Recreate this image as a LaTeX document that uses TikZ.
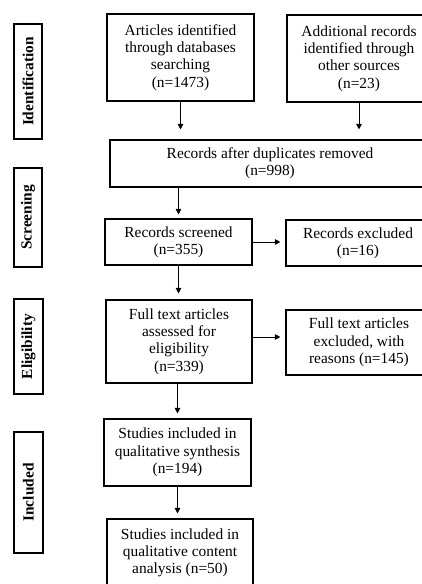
\documentclass[tikz,border=0pt]{standalone}
\usepackage{fontspec}
\setmainfont{Liberation Serif}
\usetikzlibrary{arrows.meta}
\begin{document}
\begin{tikzpicture}[x=1pt,y=-1pt,
  box/.style={draw, line width=1.1pt, align=center, inner sep=0pt, font=\fontsize{15.4}{17.3}\selectfont},
  lab/.style={draw, line width=1.1pt, inner sep=0pt, rotate=90, font=\fontsize{15.4}{17.3}\selectfont\bfseries},
  arr/.style={line width=0.9pt, -{Triangle[length=5.5pt,width=5.5pt]}}]
\useasboundingbox[fill=white] (0,0) rectangle (421,584);
% phase labels
\node[lab, minimum width=115pt, minimum height=28pt] (lid) at (28,81.5) {Identification};
\node[lab, minimum width=99pt, minimum height=28pt] (lsc) at (28,217.5) {Screening};
\node[lab, minimum width=95pt, minimum height=29pt] (lel) at (28.5,346.5) {Eligibility};
\node[lab, minimum width=121pt, minimum height=29pt] (lin) at (28.5,492.5) {Included};
% boxes
\node[box, minimum width=147pt, minimum height=87pt] (A) at (180.5,57.5) {Articles identified\\through databases\\searching\\(n=1473)};
\node[box, minimum width=144pt, minimum height=87pt] (B) at (359,58.5) {Additional records\\identified through\\other sources\\(n=23)};
\node[box, minimum width=320pt, minimum height=47pt] (dup) at (270,163.5) {Records after duplicates removed\\(n=998)};
\node[box, minimum width=147pt, minimum height=46pt] (scr) at (178.5,242) {Records screened\\(n=355)};
\node[box, minimum width=144pt, minimum height=46pt] (exc) at (358,243) {Records excluded\\(n=16)};
\node[box, minimum width=146pt, minimum height=83pt] (ft) at (179,341.5) {Full text articles\\assessed for\\eligibility\\(n=339)};
\node[box, minimum width=146pt, minimum height=65pt] (ftx) at (359,342.5) {Full text articles\\excluded, with\\reasons (n=145)};
\node[box, minimum width=147pt, minimum height=67pt] (syn) at (177.5,452.5) {Studies included in\\qualitative synthesis\\(n=194)};
\node[box, minimum width=146pt, minimum height=68pt] (con) at (180,553) {Studies included in\\qualitative content\\analysis (n=50)};
% arrows
\draw[arr, shorten >=10pt] (A.south) -- (A.south |- dup.north);
\draw[arr, shorten >=10pt] (B.south) -- (B.south |- dup.north);
\draw[arr, shorten >=4pt] (dup.south -| scr.north) -- (scr.north);
\draw[arr, shorten >=5pt] (scr.east) -- (exc.west |- scr.east);
\draw[arr, shorten >=6pt] (scr.south) -- (scr.south |- ft.north);
\draw[arr, shorten >=5pt] ([yshift=4.5pt]ft.east) -- ([yshift=4.5pt]ft.east -| ftx.west);
\draw[arr, shorten >=5pt] (ft.south -| syn.north) -- (syn.north);
\draw[arr, shorten >=5pt] (syn.south) -- (syn.south |- con.north);
\end{tikzpicture}
\end{document}
